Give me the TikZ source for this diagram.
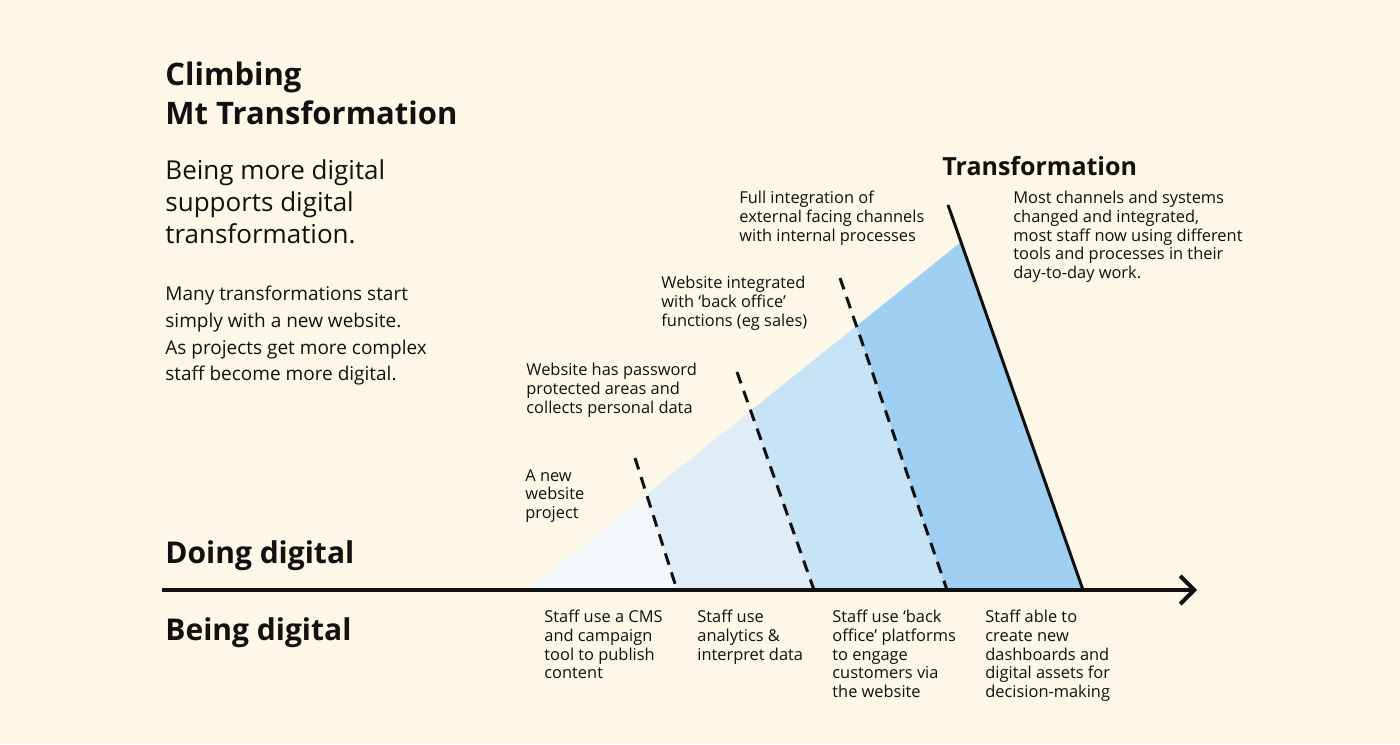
\documentclass[tikz,border=0pt]{standalone}
\usepackage{fontspec}
\setmainfont{Open Sans}
\usetikzlibrary{arrows.meta}
\definecolor{bg}{RGB}{253,247,232}
\definecolor{ink}{RGB}{17,17,17}
\definecolor{rone}{RGB}{244,248,251}
\definecolor{rtwo}{RGB}{224,237,247}
\definecolor{rthree}{RGB}{199,227,246}
\definecolor{rfour}{RGB}{159,207,242}
\begin{document}
\begin{tikzpicture}[x=0.5pt,y=-0.5pt,
  txt/.style={anchor=north west, inner sep=0pt, align=left, text=ink},
  titlefont/.style={txt, font=\fontsize{15.5}{19.5}\selectfont\bfseries},
  subfont/.style={txt, font=\fontsize{13}{16}\selectfont},
  bodyfont/.style={txt, font=\fontsize{9.5}{13.3}\selectfont},
  headfont/.style={txt, font=\fontsize{15}{19}\selectfont\bfseries},
  trfont/.style={txt, font=\fontsize{12.5}{15}\selectfont\bfseries},
  lblfont/.style={txt, font=\fontsize{8.2}{9.3}\selectfont},
  dashline/.style={ink, line width=1.5pt, dash pattern=on 6pt off 4pt},
  solidline/.style={ink, line width=1.5pt},
  axisline/.style={ink, line width=2pt, -{Straight Barb[length=7pt,width=14pt,line width=2pt]}}
]
\fill[bg] (0,0) rectangle (1400,744);
\useasboundingbox (0,0) rectangle (1400,744);

% key points
\coordinate (A) at (527,590);
\coordinate (D1) at (635,458);
\coordinate (P1) at (646.5,494.2);
\coordinate (B1) at (677,590);
\coordinate (D2) at (737,372);
\coordinate (P2) at (750.7,410.7);
\coordinate (B2) at (814,590);
\coordinate (D3) at (840,278);
\coordinate (P3) at (856.4,326);
\coordinate (B3) at (947,590);
\coordinate (S) at (948,205);
\coordinate (T) at (961,242);
\coordinate (B4) at (1083,590);
\coordinate (axL) at (162,590);
\coordinate (axR) at (1197,590);

% fills
\fill[rone] (A) -- (P1) -- (B1) -- cycle;
\fill[rtwo] (B1) -- (P1) -- (P2) -- (B2) -- cycle;
\fill[rthree] (B2) -- (P2) -- (P3) -- (B3) -- cycle;
\fill[rfour] (B3) -- (P3) -- (T) -- (B4) -- cycle;

% lines
\draw[dashline] (D1) -- (B1);
\draw[dashline] (D2) -- (B2);
\draw[dashline] (D3) -- (B3);
\draw[solidline] (S) -- (B4);
\draw[axisline] (axL) -- (axR);

% texts
\node[titlefont] (title) at (165,62) {Climbing\\Mt Transformation};
\node[subfont] (sub) at (165,159) {Being more digital\\supports digital\\transformation.};
\node[bodyfont] (body) at (165,286) {Many transformations start\\simply with a new website.\\As projects get more complex\\staff become more digital.};
\node[headfont] (doing) at (165,540) {Doing digital};
\node[headfont] (being) at (165,617) {Being digital};
\node[trfont] (trans) at (942,156) {Transformation};
\node[lblfont] (most) at (1013,191) {Most channels and systems\\changed and integrated,\\most staff now using different\\tools and processes in their\\day-to-day work.};
\node[lblfont] (full) at (739,191) {Full integration of\\external facing channels\\with internal processes};
\node[lblfont] (integ) at (661,276) {Website integrated\\with ‘back office’\\functions (eg sales)};
\node[lblfont] (pass) at (526,363) {Website has password\\protected areas and\\collects personal data};
\node[lblfont] (anew) at (525,469) {A new\\website\\project};
\node[lblfont] (cms) at (544,610) {Staff use a CMS\\and campaign\\tool to publish\\content};
\node[lblfont] (analytics) at (697,610) {Staff use\\analytics \&\\interpret data};
\node[lblfont] (office) at (832,610) {Staff use ‘back\\office’ platforms\\to engage\\customers via\\the website};
\node[lblfont] (able) at (985,610) {Staff able to\\create new\\dashboards and\\digital assets for\\decision-making};
\end{tikzpicture}
\end{document}
